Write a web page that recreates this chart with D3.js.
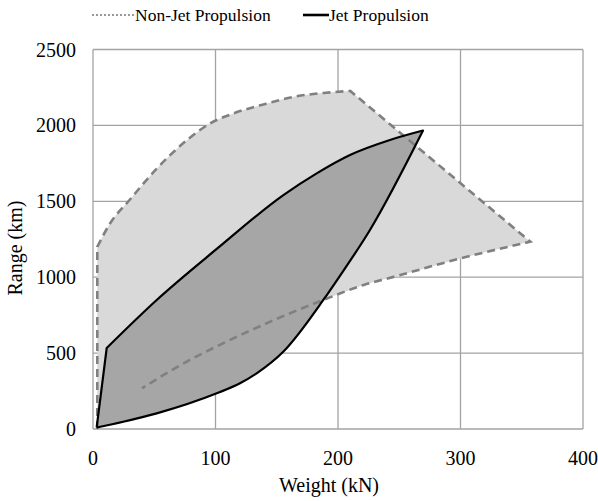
<!DOCTYPE html>
<html>
<head>
<meta charset="utf-8">
<script src="https://cdn.jsdelivr.net/npm/d3@7"></script>
<style>
  html, body { margin: 0; padding: 0; background: #fff; }
  svg { display: block; }
</style>
</head>
<body>
<svg id="chart" width="598" height="501"></svg>
<script>
// Axis ticks
const xTicks = [0, 100, 200, 300, 400];
const yTicks = [0, 500, 1000, 1500, 2000, 2500];

// Non-jet propulsion envelope, [weight kN, range km], traced clockwise
const nonJetLeftEdge = [[3.5, 0], [3.5, 1200]];
const nonJetTopCurve = [[3.5, 1200], [14, 1355], [30, 1510], [52, 1715], [77, 1905], [95, 2010],
  [115, 2080], [140, 2140], [165, 2190], [190, 2215], [210, 2227]];
const nonJetRightEdge = [[210, 2227], [357, 1234]];
const nonJetBottomCurve = [[357, 1234], [300, 1124], [248, 1008], [221, 949], [188, 850],
  [145, 708], [106, 564], [74, 433], [40, 268]];

// Jet propulsion envelope
const jetStart = [[3, 10], [11.2, 534]];
const jetUpper = [[11.2, 534], [52, 850], [101, 1186], [155.4, 1541], [182.6, 1684],
  [209.8, 1805], [242.4, 1904], [269.4, 1966]];
const jetLower = [[269.4, 1966], [226.1, 1311], [200.2, 993], [188, 850], [155.3, 509],
  [133.6, 367], [120, 301], [101, 235], [52, 103], [24.7, 48], [3, 10]];

const legendItems = ["Non-Jet Propulsion", "Jet Propulsion"];
const serif = '"Liberation Serif", "Times New Roman", serif';

const svg = d3.select("#chart");
const x = d3.scaleLinear().domain([0, 400]).range([93, 583]);
const y = d3.scaleLinear().domain([0, 2500]).range([429, 49.5]);

// Gridlines and frame
const grid = svg.append("g").attr("stroke", "#a3a3a3").attr("stroke-width", 1.3);
grid.selectAll("line.v").data(xTicks).join("line")
  .attr("x1", d => x(d)).attr("x2", d => x(d)).attr("y1", y(0)).attr("y2", y(2500));
grid.selectAll("line.h").data(yTicks).join("line")
  .attr("y1", d => y(d)).attr("y2", d => y(d)).attr("x1", x(0)).attr("x2", x(400));

// Join several segments (each with its own curve) into one path string
function joined(parts) {
  return parts.map((p, i) => {
    const s = d3.line().x(d => x(d[0])).y(d => y(d[1])).curve(p.curve)(p.pts);
    return i === 0 ? s : s.replace(/^M/, "L");
  }).join("");
}
const smooth = d3.curveMonotoneX;

const nonJetPath = joined([
  { pts: nonJetLeftEdge, curve: d3.curveLinear },
  { pts: nonJetTopCurve, curve: smooth },
  { pts: nonJetRightEdge, curve: d3.curveLinear },
  { pts: nonJetBottomCurve, curve: smooth }
]);
const jetPath = joined([
  { pts: jetStart, curve: d3.curveLinear },
  { pts: jetUpper, curve: smooth },
  { pts: jetLower, curve: smooth }
]);

// Fills
svg.append("path").attr("d", nonJetPath + "Z").attr("fill", "#d9d9d9").attr("stroke", "none");
svg.append("path").attr("d", jetPath + "Z").attr("fill", "#a6a6a6").attr("stroke", "none");

// Outlines
svg.append("path").attr("d", nonJetPath).attr("fill", "none")
  .attr("stroke", "#808080").attr("stroke-width", 2.6).attr("stroke-dasharray", "8,5");
svg.append("path").attr("d", jetPath).attr("fill", "none")
  .attr("stroke", "#000").attr("stroke-width", 2.2).attr("stroke-linejoin", "round");

// Tick labels
svg.append("g").selectAll("text").data(yTicks).join("text")
  .style("font-family", serif).style("font-size", "20px")
  .attr("x", 76).attr("y", d => y(d)).attr("dy", "0.35em")
  .attr("text-anchor", "end").attr("fill", "#000")
  .text(d => d);
svg.append("g").selectAll("text").data(xTicks).join("text")
  .style("font-family", serif).style("font-size", "20px")
  .attr("x", d => x(d)).attr("y", 465)
  .attr("text-anchor", "middle").attr("fill", "#000")
  .text(d => d);

// Axis titles
svg.append("text").style("font-family", serif).style("font-size", "20px")
  .attr("x", 329).attr("y", 492).attr("text-anchor", "middle").text("Weight (kN)");
svg.append("text").style("font-family", serif).style("font-size", "20px")
  .attr("transform", "translate(22,248) rotate(-90)")
  .attr("text-anchor", "middle").text("Range (km)");

// Legend
const leg = svg.append("g");
leg.append("line").attr("x1", 92).attr("x2", 134).attr("y1", 15).attr("y2", 15)
  .attr("stroke", "#999").attr("stroke-width", 2).attr("stroke-dasharray", "2,2");
leg.append("text").style("font-family", serif).style("font-size", "17.5px")
  .attr("x", 135).attr("y", 21).text(legendItems[0]);
leg.append("line").attr("x1", 303).attr("x2", 329).attr("y1", 15).attr("y2", 15)
  .attr("stroke", "#000").attr("stroke-width", 2.6);
leg.append("text").style("font-family", serif).style("font-size", "17.5px")
  .attr("x", 329).attr("y", 21).text(legendItems[1]);
</script>
</body>
</html>
